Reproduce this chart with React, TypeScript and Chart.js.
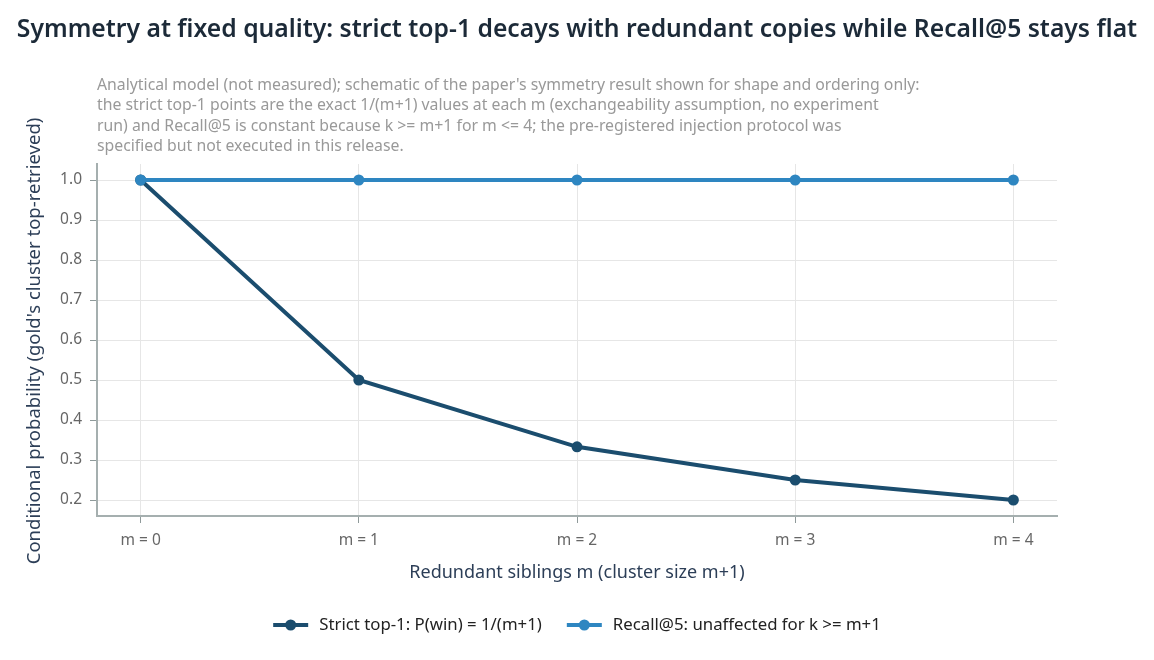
import { useEffect, useRef } from "react"
import { Chart, registerables } from "chart.js"

Chart.register(...registerables)

const FONT = "'Noto Sans', 'DejaVu Sans', sans-serif"

const mValues = [0, 1, 2, 3, 4]
const strictTop1 = [1.0, 0.5, 0.333, 0.25, 0.2]
const recallAt5 = [1.0, 1.0, 1.0, 1.0, 1.0]
const yTicks = [0.2, 0.3, 0.4, 0.5, 0.6, 0.7, 0.8, 0.9, 1.0]

const seriesLabels = ["Strict top-1: P(win) = 1/(m+1)", "Recall@5: unaffected for k >= m+1"]
const seriesColors = ["#1b4d6e", "#2e86c1"]

const titleText = "Symmetry at fixed quality: strict top-1 decays with redundant copies while Recall@5 stays flat"
const noteLines = [
  "Analytical model (not measured); schematic of the paper's symmetry result shown for shape and ordering only:",
  "the strict top-1 points are the exact 1/(m+1) values at each m (exchangeability assumption, no experiment",
  "run) and Recall@5 is constant because k >= m+1 for m <= 4; the pre-registered injection protocol was",
  "specified but not executed in this release.",
]
const xTitle = "Redundant siblings m (cluster size m+1)"
const yTitle = "Conditional probability (gold's cluster top-retrieved)"

// draws the title, note, axis titles and legend around the plot
const decorations = {
  id: "decorations",
  afterDraw(chart: Chart) {
    const ctx = chart.ctx
    ctx.save()

    ctx.fillStyle = "#1c2a38"
    ctx.font = `600 24.7px ${FONT}`
    ctx.textAlign = "center"
    ctx.textBaseline = "middle"
    ctx.fillText(titleText, 577, 30)

    ctx.fillStyle = "#999999"
    ctx.font = `15.8px ${FONT}`
    ctx.textAlign = "left"
    noteLines.forEach((line, i) => ctx.fillText(line, 97, 85 + i * 20.5))

    ctx.fillStyle = "#2c3e57"
    ctx.font = `18px ${FONT}`
    ctx.textAlign = "center"
    ctx.fillText(xTitle, 577, 573)

    ctx.save()
    ctx.font = `18.5px ${FONT}`
    ctx.translate(35, 341)
    ctx.rotate(-Math.PI / 2)
    ctx.fillText(yTitle, 0, 0)
    ctx.restore()

    // legend, centred on the page
    ctx.font = `16.8px ${FONT}`
    ctx.textAlign = "left"
    const widths = seriesLabels.map((l) => 46 + ctx.measureText(l).width)
    const gap = 25
    let x = 577 - (widths[0] + widths[1] + gap) / 2
    seriesLabels.forEach((label, i) => {
      ctx.strokeStyle = seriesColors[i]
      ctx.lineWidth = 4
      ctx.beginPath()
      ctx.moveTo(x, 625)
      ctx.lineTo(x + 35, 625)
      ctx.stroke()
      ctx.fillStyle = seriesColors[i]
      ctx.beginPath()
      ctx.arc(x + 17.5, 625, 5.5, 0, Math.PI * 2)
      ctx.fill()
      ctx.fillStyle = "#222222"
      ctx.fillText(label, x + 46, 625)
      x += widths[i] + gap
    })

    ctx.restore()
  },
}

export default function App() {
  const chartRef = useRef<HTMLCanvasElement>(null)
  const chartInstance = useRef<Chart | null>(null)

  useEffect(() => {
    document.body.style.margin = "0"
    if (!chartRef.current) return
    const ctx = chartRef.current.getContext("2d")
    if (!ctx) return

    if (chartInstance.current) {
      chartInstance.current.destroy()
    }

    chartInstance.current = new Chart(ctx, {
      type: "line",
      data: {
        datasets: [
          {
            label: seriesLabels[0],
            data: mValues.map((m, i) => ({ x: m, y: strictTop1[i] })),
            borderColor: seriesColors[0],
            backgroundColor: seriesColors[0],
            borderWidth: 4,
            pointRadius: 5.5,
            pointBorderWidth: 0,
            order: 2,
          },
          {
            label: seriesLabels[1],
            data: mValues.map((m, i) => ({ x: m, y: recallAt5[i] })),
            borderColor: seriesColors[1],
            backgroundColor: seriesColors[1],
            borderWidth: 4,
            pointRadius: 5.5,
            pointBorderWidth: 0,
            order: 1,
          },
        ],
      },
      options: {
        responsive: false,
        animation: false,
        layout: { padding: { top: 164, right: 97, left: 0, bottom: 0 } },
        plugins: {
          legend: { display: false },
          tooltip: { enabled: false },
        },
        scales: {
          x: {
            type: "linear",
            min: -0.2,
            max: 4.2,
            afterBuildTicks: (scale) => {
              scale.ticks = mValues.map((v) => ({ value: v }))
            },
            afterFit: (scale) => {
              scale.height = 144
            },
            ticks: {
              color: "#666666",
              font: { family: FONT, size: 15.5 },
              padding: 8,
              callback: (value) => `m = ${value}`,
            },
            grid: {
              color: "#e6e6e6",
              tickColor: "#8f9a9a",
              tickLength: 7,
              lineWidth: 1,
            },
            border: { color: "#a5afaf", width: 2 },
          },
          y: {
            min: 0.16,
            max: 1.04,
            afterBuildTicks: (scale) => {
              scale.ticks = yTicks.map((v) => ({ value: v }))
            },
            afterFit: (scale) => {
              scale.width = 97
            },
            ticks: {
              color: "#666666",
              font: { family: FONT, size: 15.5 },
              padding: 8,
              callback: (value) => Number(value).toFixed(1),
            },
            grid: {
              color: "#e6e6e6",
              tickColor: "#8f9a9a",
              tickLength: 7,
              lineWidth: 1,
            },
            border: { color: "#a5afaf", width: 2 },
          },
        },
      },
      plugins: [decorations],
    })

    return () => {
      if (chartInstance.current) {
        chartInstance.current.destroy()
        chartInstance.current = null
      }
    }
  }, [])

  return (
    <div style={{ width: 1154, height: 660 }}>
      <canvas ref={chartRef} width={1154} height={660} />
    </div>
  )
}
